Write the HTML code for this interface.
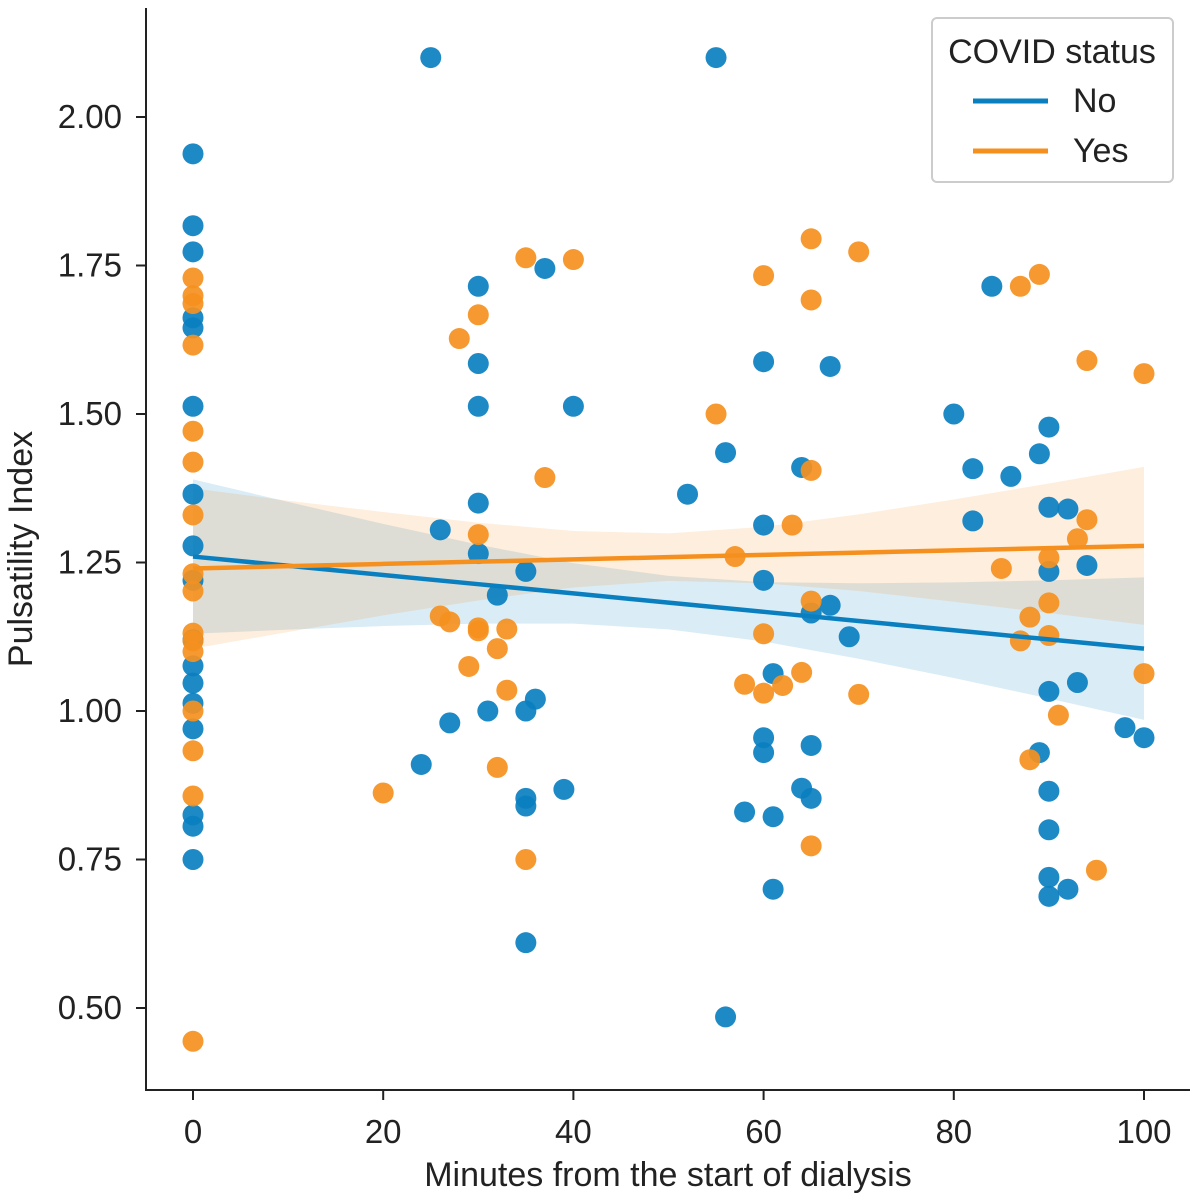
<!DOCTYPE html>
<html><head><meta charset="utf-8"><style>
html,body{margin:0;padding:0;background:#fff;}
svg text{font-family:"Liberation Sans",Arial,sans-serif;fill:#222;}
</style></head><body>
<svg id="chart" width="1200" height="1199" viewBox="0 0 1200 1199" xmlns="http://www.w3.org/2000/svg">
<g id="bands"></g><g id="dots"></g><g id="lines"></g><g id="axes"></g>
<g>
<rect x="932" y="18" width="241" height="164" rx="5" fill="#fff" fill-opacity="0.85" stroke="#ccc" stroke-width="2"/>
<text x="1052" y="63" text-anchor="middle" font-size="34">COVID status</text>
<line x1="973" y1="101" x2="1048" y2="101" stroke="#0a7fc0" stroke-width="5"/>
<text x="1073" y="112" font-size="34">No</text>
<line x1="973" y1="151" x2="1048" y2="151" stroke="#f5901e" stroke-width="5"/>
<text x="1073" y="162" font-size="34">Yes</text>
</g>
</svg>
<script>
const noX=[0,0,0,0,0,0,0,0,0,0,0,0,0,0,0,0,0,25,55,37,30,30,30,40,30,30,26,35,32,31,27,24,35,36,39,35,35,35,52,56,56,58,60,60,60,60,60,61,61,61,64,64,65,65,65,67,67,69,80,82,82,84,86,89,89,90,90,90,90,90,90,90,90,92,92,93,94,98,100];
const noY=[1.938,1.817,1.773,1.662,1.645,1.513,1.365,1.278,1.22,1.12,1.076,1.047,1.013,0.97,0.825,0.806,0.75,2.10,2.10,1.745,1.715,1.585,1.513,1.513,1.35,1.265,1.305,1.235,1.195,1.0,0.98,0.91,1.0,1.02,0.868,0.853,0.84,0.61,1.365,1.435,0.485,0.83,1.588,1.313,1.22,0.955,0.93,1.063,0.822,0.70,1.41,0.87,1.165,0.942,0.853,1.58,1.178,1.125,1.50,1.408,1.32,1.715,1.395,1.433,0.93,1.478,1.343,1.235,1.033,0.865,0.80,0.72,0.688,1.34,0.70,1.048,1.245,0.972,0.955];
const yesX=[0,0,0,0,0,0,0,0,0,0,0,0,0,0,0,0,20,26,27,28,29,30,30,30,30,32,32,33,33,35,35,37,40,55,57,58,60,60,60,62,63,64,65,65,65,65,65,70,70,85,87,87,88,88,89,90,90,90,91,93,94,94,95,100,100];
const yesY=[0.444,1.729,1.699,1.686,1.616,1.471,1.419,1.33,1.231,1.202,1.131,1.118,1.1,1.0,0.933,0.857,0.862,1.16,1.15,1.627,1.075,1.667,1.297,1.14,1.135,1.105,0.905,1.138,1.035,1.763,0.75,1.393,1.76,1.50,1.26,1.045,1.733,1.13,1.03,1.043,1.313,1.065,1.795,1.692,1.405,1.185,0.773,1.773,1.028,1.24,1.715,1.118,1.158,0.918,1.735,1.258,1.182,1.127,0.993,1.29,1.322,1.59,0.732,1.568,1.063];
const fitX=[0,10,20,30,40,50,60,70,80,90,100];
const noFit=[1.26,1.2445,1.229,1.2135,1.198,1.1825,1.167,1.1515,1.136,1.1205,1.105];
const noLo=[1.13,1.137,1.143,1.147,1.147,1.1375,1.117,1.088,1.0555,1.021,0.985];
const noHi=[1.39,1.352,1.315,1.28,1.249,1.2275,1.217,1.215,1.2165,1.22,1.225];
const yesFit=[1.24,1.2438,1.2476,1.2514,1.2552,1.259,1.2628,1.2666,1.2704,1.2742,1.278];
const yesLo=[1.105,1.133,1.161,1.186,1.208,1.219,1.215,1.202,1.184,1.165,1.145];
const yesHi=[1.375,1.354,1.335,1.317,1.303,1.299,1.31,1.331,1.356,1.383,1.411];
const xTicks=[0,20,40,60,80,100];
const yTicks=[0.5,0.75,1.0,1.25,1.5,1.75,2.0];
const xs=v=>193+v*9.51;
const ys=v=>117+(2.0-v)*594;
const NS="http://www.w3.org/2000/svg";
function mk(tag,attrs,parent){const e=document.createElementNS(NS,tag);for(const k in attrs)e.setAttribute(k,attrs[k]);document.getElementById(parent).appendChild(e);return e;}
const series=[[noX,noY,'#0a7fc0','no'],[yesX,yesY,'#f5901e','yes']];
[[noLo,noHi,'#0a7fc0','no'],[yesLo,yesHi,'#f5901e','yes']].forEach(([lo,hi,c,n])=>{
let d='M'+fitX.map((x,i)=>xs(x)+','+ys(hi[i])).join(' L')+' L'+fitX.map((x,i)=>xs(x)+','+ys(lo[i])).reverse().join(' L')+'Z';
const p=mk('path',{d:d,fill:c,'fill-opacity':0.15},'bands');


});
series.forEach(([X,Y,c,n])=>{X.forEach((x,i)=>{
const e=mk('circle',{cx:xs(x),cy:ys(Y[i]),r:10.5,fill:c,'fill-opacity':0.92},'dots');


});});
[[noFit,'#0a7fc0','no'],[yesFit,'#f5901e','yes']].forEach(([F,c,n])=>{
const e=mk('polyline',{points:fitX.map((x,i)=>xs(x)+','+ys(F[i])).join(' '),fill:'none',stroke:c,'stroke-width':4.5},'lines');


});
let a=mk('line',{x1:146,y1:8,x2:146,y2:1091,stroke:'#222','stroke-width':2},'axes');


a=mk('line',{x1:145,y1:1090,x2:1190,y2:1090,stroke:'#222','stroke-width':2},'axes');


xTicks.forEach(t=>{mk('line',{x1:xs(t),y1:1090,x2:xs(t),y2:1100,stroke:'#222','stroke-width':2},'axes');
const e=mk('text',{x:xs(t),y:1143,'text-anchor':'middle','font-size':33},'axes');e.textContent=t;

});
yTicks.forEach(t=>{mk('line',{x1:136,y1:ys(t),x2:146,y2:ys(t),stroke:'#222','stroke-width':2},'axes');
const e=mk('text',{x:122,y:ys(t)+11,'text-anchor':'end','font-size':33},'axes');e.textContent=t.toFixed(2);

});
let t=mk('text',{x:668,y:1186,'text-anchor':'middle','font-size':34},'axes');t.textContent='Minutes from the start of dialysis';


t=mk('text',{x:0,y:0,'text-anchor':'middle','font-size':34,transform:'translate(32,549) rotate(-90)'},'axes');t.textContent='Pulsatility Index';


</script>
</body></html>
